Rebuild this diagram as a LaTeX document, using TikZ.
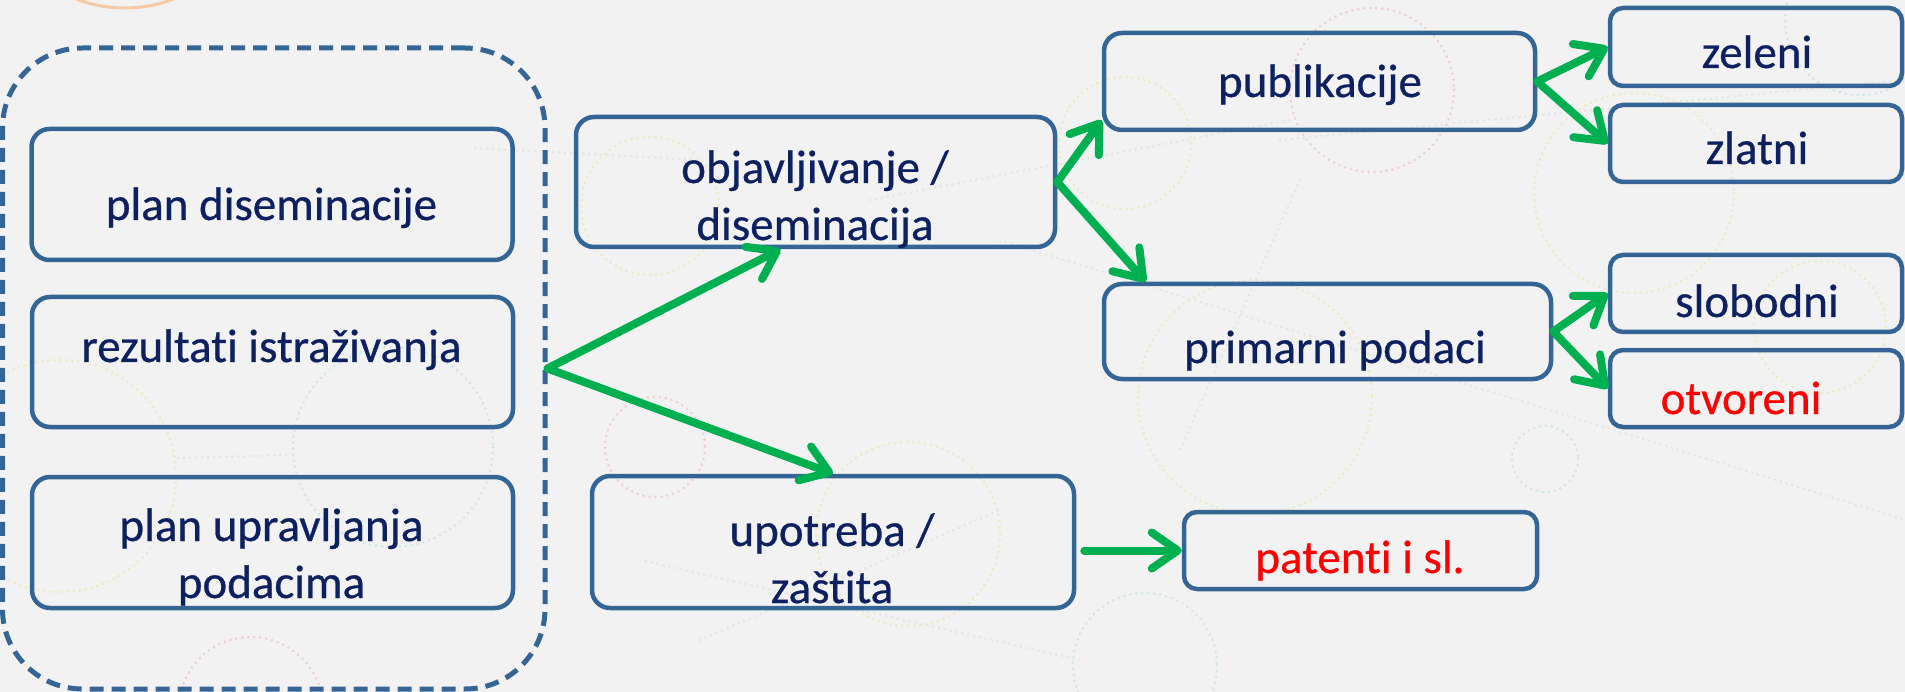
\documentclass[tikz,border=0pt]{standalone}
\usepackage{fontspec}
\setmainfont{Carlito}[Ligatures=NoCommon,FakeBold=0.6]
\usetikzlibrary{arrows.meta,calc}
\definecolor{bg}{HTML}{F2F2F2}
\definecolor{boxblue}{HTML}{356595}
\definecolor{navy}{HTML}{0D2161}
\definecolor{arrgreen}{HTML}{00B050}
\definecolor{dotyel}{HTML}{F0E9C6}
\definecolor{dotred}{HTML}{EFCFCF}
\definecolor{dotcyan}{HTML}{D2E6EA}
\definecolor{dotgrey}{HTML}{E6E6E6}
\definecolor{orangearc}{HTML}{F7C9A3}
\begin{document}
\begin{tikzpicture}[x=1pt,y=-1pt,
  box/.style={draw=boxblue,line width=4.5pt,rounded corners=18pt,inner sep=0pt},
  sbox/.style={box,rounded corners=13pt},
  txt/.style={text=navy,font=\fontsize{47}{57}\selectfont,align=center,inner sep=0pt,anchor=base},
  redtxt/.style={txt,text=red},
  arr/.style={draw=arrgreen,line width=8pt,line cap=round,-{Straight Barb[length=26pt,width=36pt,line cap=round,line join=round]}},
  deco/.style={line width=3pt,dash pattern=on 0.01pt off 6pt,line cap=round},
]
\fill[bg] (0,0) rectangle (1905,692);
\useasboundingbox (0,0) rectangle (1905,692);
% background decoration
\draw[orangearc,line width=3pt] (125,-128) circle[radius=136];
\draw[deco,dotyel] (650,206) circle[radius=69];
\draw[deco,dotred] (1372,90) circle[radius=82];
\draw[deco,dotyel] (1125,143) circle[radius=66];
\draw[deco,dotyel] (1634,193) circle[radius=100];
\draw[deco,dotyel] (1820,327) circle[radius=66];
\draw[deco,dotyel] (1255,397) circle[radius=117];
\draw[deco,dotcyan] (1545,459) circle[radius=33];
\draw[deco,dotcyan] (1145,665) circle[radius=72];
\draw[deco,dotred] (655,447) circle[radius=50];
\draw[deco,dotyel] (908,534) circle[radius=92];
\draw[deco,dotyel] (60,476) circle[radius=116];
\draw[deco,dotcyan] (393,447) circle[radius=100];
\draw[deco,dotred] (251,709) circle[radius=72];
\draw[deco,dotcyan] (1860,20) circle[radius=75];
\draw[deco,dotgrey] (178,458) -- (290,455);
\draw[deco,dotgrey] (475,148) -- (700,160);
\draw[deco,dotgrey] (870,200) -- (1290,120);
\draw[deco,dotgrey] (1280,140) -- (1905,80);
\draw[deco,dotgrey] (1000,240) -- (1905,520);
\draw[deco,dotgrey] (700,640) -- (1000,510);
\draw[deco,dotgrey] (1300,180) -- (1180,450);
\draw[deco,dotgrey] (640,560) -- (1080,660);
% container
\node[draw=boxblue,line width=5pt,dash pattern=on 14pt off 8pt,rounded corners=80pt,minimum width=542.5pt,minimum height=641pt,inner sep=0pt] (res) at (273.75,368.5) {};
% boxes
\node[box,minimum width=481pt,minimum height=131pt] (A) at (272,194.5) {};
\node[box,minimum width=481pt,minimum height=130pt] (B) at (272.5,362) {};
\node[box,minimum width=481pt,minimum height=131pt] (C) at (272.5,542.5) {};
\node[box,minimum width=479pt,minimum height=130pt] (D) at (815.5,182) {};
\node[box,minimum width=482pt,minimum height=132pt] (E) at (833,542) {};
\node[box,minimum width=431pt,minimum height=97pt] (F) at (1319.5,81.5) {};
\node[box,minimum width=447pt,minimum height=95pt] (G) at (1327.5,331.5) {};
\node[sbox,minimum width=292pt,minimum height=78pt] (H) at (1756,47) {};
\node[sbox,minimum width=292pt,minimum height=77pt] (I) at (1756,143.5) {};
\node[sbox,minimum width=292pt,minimum height=77pt] (J) at (1756,293.5) {};
\node[sbox,minimum width=292pt,minimum height=77pt] (K) at (1756,388.5) {};
\node[sbox,minimum width=353pt,minimum height=77pt] (L) at (1360.5,550.5) {};
% texts (multi-line nodes: base = baseline of last line)
\node[txt] (tA) at (271.5,220) {plan diseminacije};
\node[txt] (tB) at (271.5,362) {rezultati istraživanja};
\node[txt] (tC) at (271.5,598) {plan upravljanja\\podacima};
\node[txt] (tD) at (815,240) {objavljivanje /\\diseminacija};
\node[txt] (tE) at (832,603) {upotreba /\\zaštita};
\node[txt] (tF) at (1320,97) {publikacije};
\node[txt] (tG) at (1335,363) {primarni podaci};
\node[txt] (tH) at (1757,68) {zeleni};
\node[txt] (tI) at (1757,164) {zlatni};
\node[txt] (tJ) at (1757,317) {slobodni};
\node[redtxt] (tK) at (1741,414) {otvoreni};
\node[redtxt] (tL) at (1360,573) {patenti i sl.};
% arrows
\draw[arr] (res.east) -- ([xshift=-35pt]D.south);
\draw[arr] (res.east) -- (E.north);
\draw[arr] (D.east) -- ([yshift=12pt]F.south west);
\draw[arr] (D.east) -- ([xshift=44pt]G.north west);
\draw[arr] (F.east) -- (H.west);
\draw[arr] (F.east) -- (I.west);
\draw[arr] (G.east) -- (J.west);
\draw[arr] (G.east) -- (K.west);
\draw[arr] ($(E.east |- L.west)+(8pt,0)$) -- (L.west);
\end{tikzpicture}
\end{document}
